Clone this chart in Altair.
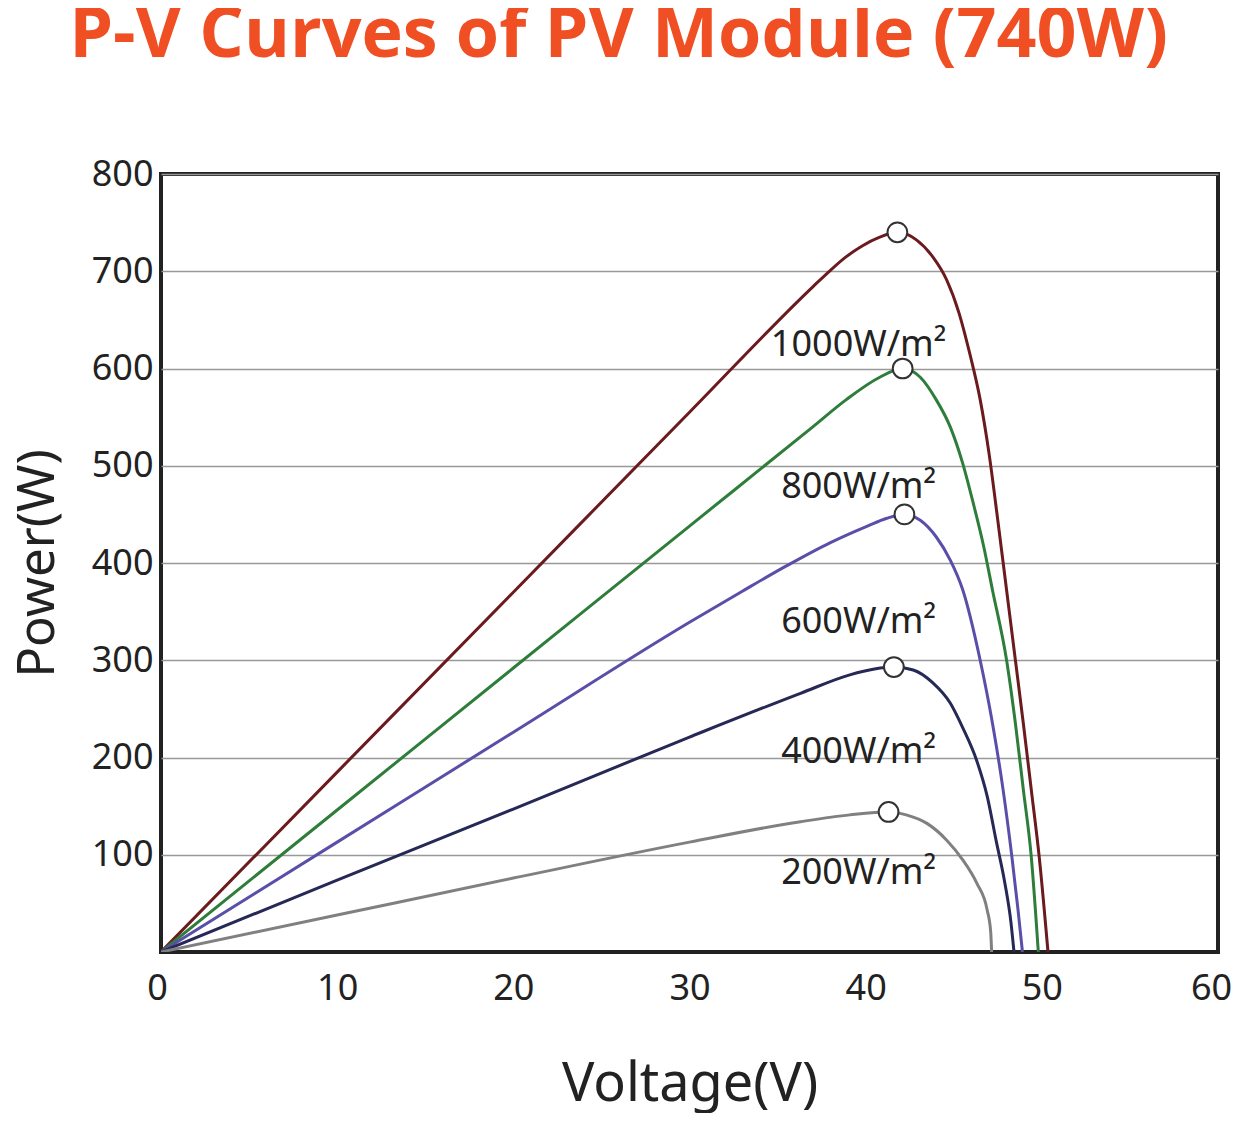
import altair as alt
import pandas as pd

# ---- data ----
v1000 = [0, 10, 20, 30, 37.0, 38.0, 38.9, 39.8, 40.8, 41.8, 42.9, 43.8, 44.6, 45.3, 45.9, 46.5, 47.0, 47.5, 48.0, 48.5, 48.95, 49.4, 49.85, 50.35]
p1000 = [0, 185, 370, 555, 684, 701, 715, 726, 735, 740, 732, 715, 691, 657, 616, 568, 513, 444, 372, 300, 235, 167, 98, 0]

v800 = [0, 10, 20, 30, 37.0, 38.9, 40.8, 42.1, 43.1, 44.0, 44.8, 45.5, 46.1, 46.7, 47.2, 48.0, 48.5, 48.95, 49.4, 49.8]
p800 = [0, 146, 292, 438, 540, 568, 591, 600, 591, 568, 540, 503, 462, 417, 372, 300, 235, 167, 98, 0]

v600 = [0, 10, 20, 30, 33.0, 35.5, 38.0, 40.1, 41.2, 42.2, 43.1, 44.0, 44.8, 45.5, 46.5, 47.2, 47.8, 48.3, 48.65, 48.9]
p600 = [0, 113, 226, 339, 371, 397, 421, 438, 446, 450, 444, 427, 403, 373, 300, 235, 167, 98, 43, 0]

v400 = [0, 10, 20, 30, 36.3, 39.1, 40.5, 41.6, 42.7, 43.8, 44.8, 45.5, 46.3, 46.9, 47.4, 47.9, 48.25, 48.42]
p400 = [0, 74, 147, 221, 266, 285, 291, 293, 290, 277, 256, 231, 197, 160, 115, 71, 30, 0]

v200 = [0, 10, 20, 30, 36.3, 39.1, 41.3, 42.3, 43.5, 44.6, 45.5, 46.3, 46.9, 47.1, 47.15]
p200 = [0, 38, 76, 113, 134, 141, 144, 141, 132, 115, 95, 71, 43, 20, 0]

series_names = ["1000W/m²", "800W/m²", "600W/m²", "400W/m²", "200W/m²"]
series_colors = ["#6B1A1E", "#2E7D3A", "#5A4FA8", "#262856", "#808080"]

mpp_v = [41.8, 42.1, 42.2, 41.6, 41.3]
mpp_p = [740, 600, 450, 293, 144]

label_v = [39.6, 39.6, 39.6, 39.6, 39.6]
label_p = [624, 478, 339, 206, 81]

x_ticks = [0, 10, 20, 30, 40, 50, 60]
y_ticks = [100, 200, 300, 400, 500, 600, 700, 800]

# ---- build tables ----
rows = []
for name, vs, ps in zip(series_names,
                        [v1000, v800, v600, v400, v200],
                        [p1000, p800, p600, p400, p200]):
    for i, (v, p) in enumerate(zip(vs, ps)):
        rows.append({"series": name, "V": v, "P": p, "order": i})
curves = pd.DataFrame(rows)
mpp = pd.DataFrame({"series": series_names, "V": mpp_v, "P": mpp_p})
labels = pd.DataFrame({"series": series_names, "V": label_v, "P": label_p})

FONT = "Noto Sans"

xscale = alt.Scale(domain=[0, 60], nice=False, zero=False)
yscale = alt.Scale(domain=[0, 800], nice=False)
color = alt.Color("series:N", scale=alt.Scale(domain=series_names, range=series_colors), legend=None)

xaxis = alt.Axis(values=x_ticks, title="Voltage(V)", grid=False, ticks=False, domain=False,
                 labelFontSize=36, labelPadding=19, labelColor="#222", labelFont=FONT,
                 labelOffset={"condition": [{"test": "datum.value == 60", "value": -7},
                                            {"test": "datum.value == 0", "value": -4}],
                              "value": 0},
                 titleFontSize=54, titleFont=FONT, titleFontWeight="normal", titleColor="#222",
                 titlePadding=51, labelFlush=False)
yaxis = alt.Axis(values=y_ticks, title="Power(W)", grid=True, gridColor="#999", gridWidth=1.5,
                 ticks=False, domain=False,
                 labelFontSize=36, labelPadding=8, labelColor="#222", labelFont=FONT,
                 titleFontSize=51, titleFont=FONT, titleFontWeight="normal", titleColor="#222",
                 titlePadding=27, labelFlush=False)

lines = alt.Chart(curves).mark_line(strokeWidth=3, interpolate="monotone", clip=True).encode(
    x=alt.X("V:Q", scale=xscale, axis=xaxis),
    y=alt.Y("P:Q", scale=yscale, axis=yaxis),
    color=color,
    order="order:Q",
    detail="series:N",
)

points = alt.Chart(mpp).mark_point(shape="circle", filled=True, fill="white", stroke="#333",
                                   strokeWidth=2, size=390, opacity=1).encode(
    x=alt.X("V:Q", scale=xscale),
    y=alt.Y("P:Q", scale=yscale),
)

texts = alt.Chart(labels).mark_text(fontSize=36, font=FONT, color="#222", align="center",
                                    baseline="middle").encode(
    x=alt.X("V:Q", scale=xscale),
    y=alt.Y("P:Q", scale=yscale),
    text="series:N",
)

chart = alt.layer(lines, texts, points).properties(
    width=1057,
    height=778,
    padding={"left": 153, "top": 166, "right": 14, "bottom": 161},
    autosize="none",
    title=alt.TitleParams(
        "P-V Curves of PV Module (740W)",
        fontSize=70, font="Open Sans", fontWeight="bold", color="#F04E23",
        anchor="middle", frame="group", dx=-71, offset=84,
    ),
).configure(background="white").configure_view(stroke="#222", strokeWidth=4)

chart.save("out.html", embed_options={"renderer": "svg", "actions": False})
